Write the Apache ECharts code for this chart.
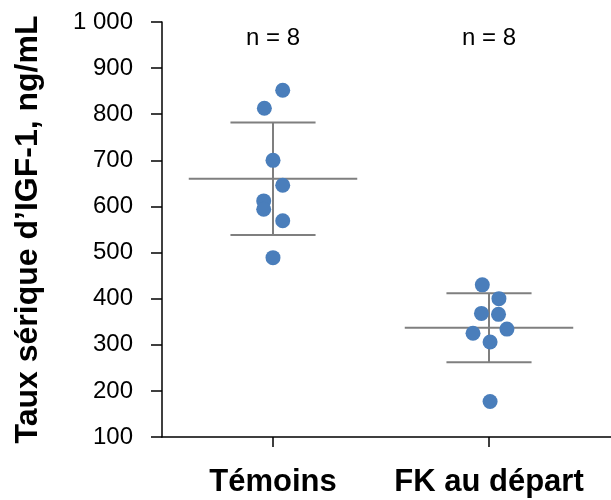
<!DOCTYPE html>
<html>
<head>
<meta charset="utf-8">
<style>
  html, body { margin: 0; padding: 0; background: #fff; }
  #chart { width: 611px; height: 500px; }
</style>
<script src="https://cdn.jsdelivr.net/npm/echarts@6/dist/echarts.min.js"></script>
</head>
<body>
<div id="chart"></div>
<script>
// Serum IGF-1 levels, controls vs. FK patients at baseline
const categories = ['Témoins', 'FK au départ'];
const temoinsValues = [852, 813, 700, 646, 612, 594, 569, 489];
const fkValues = [430, 400, 368, 366, 334, 325, 306, 177];
// horizontal jitter of each dot around its group centre (in category units)
const temoinsJitter = [0.045, -0.04, 0, 0.045, -0.043, -0.043, 0.045, 0];
const fkJitter = [-0.031, 0.046, -0.035, 0.044, 0.083, -0.074, 0.005, 0.005];
// group mean and standard deviation
const means = [660, 337];
const sds = [122, 75];
const yTicks = [100, 200, 300, 400, 500, 600, 700, 800, 900, 1000];

const FONT = 'Liberation Sans, Arial, sans-serif';
const groups = [temoinsValues, fkValues];
const jitters = [temoinsJitter, fkJitter];

const dots = [];
groups.forEach((vals, g) => {
  vals.forEach((v, i) => dots.push([g + 1 + jitters[g][i], v]));
});

const errData = means.map((m, g) => [g + 1, m, m - sds[g], m + sds[g]]);
const countData = groups.map((vals, g) => ({ value: [g + 1, 965], n: vals.length }));

const chart = echarts.init(document.getElementById('chart'), null, { renderer: 'canvas' });
chart.setOption({
  animation: false,
  grid: { left: 162, right: 0, top: 22, bottom: 63, containLabel: false, outerBoundsMode: 'none' },
  xAxis: {
    type: 'value',
    min: 0.4861,
    max: 2.5648,
    splitLine: { show: false },
    axisLine: { show: true, onZero: false, lineStyle: { color: '#000', width: 1.5 } },
    axisTick: { show: true, customValues: [1, 2], length: 10, lineStyle: { color: '#000', width: 1.5 } },
    axisLabel: {
      customValues: [1, 2],
      formatter: v => categories[Math.round(v) - 1],
      color: '#000',
      fontFamily: FONT,
      fontWeight: 'bold',
      fontSize: 31,
      margin: 30
    }
  },
  yAxis: {
    type: 'value',
    min: 100,
    max: 1000,
    interval: 100,
    name: "Taux sérique d’IGF-1, ng/mL",
    nameLocation: 'middle',
    nameGap: 118,
    nameTextStyle: { color: '#000', fontFamily: FONT, fontWeight: 'bold', fontSize: 32 },
    splitLine: { show: false },
    axisLine: { show: true, lineStyle: { color: '#000', width: 1.5 } },
    axisTick: { show: true, length: 11, lineStyle: { color: '#000', width: 1.5 } },
    axisLabel: {
      color: '#000',
      fontFamily: FONT,
      fontSize: 24,
      margin: 29,
      formatter: v => yTicks.includes(v) ? String(v).replace(/\B(?=(\d{3})+(?!\d))/g, ' ') : ''
    }
  },
  series: [
    {
      // mean ± SD bars
      type: 'custom',
      data: errData,
      z: 1,
      renderItem: (params, api) => {
        const x = api.value(0);
        const mean = api.coord([x, api.value(1)]);
        const lo = api.coord([x, api.value(2)]);
        const hi = api.coord([x, api.value(3)]);
        const meanHalf = api.size([0.39, 0])[0];
        const capHalf = api.size([0.197, 0])[0];
        const style = { stroke: '#7f7f7f', lineWidth: 2 };
        return {
          type: 'group',
          children: [
            { type: 'line', shape: { x1: lo[0], y1: lo[1], x2: hi[0], y2: hi[1] }, style },
            { type: 'line', shape: { x1: mean[0] - meanHalf, y1: mean[1], x2: mean[0] + meanHalf, y2: mean[1] }, style },
            { type: 'line', shape: { x1: hi[0] - capHalf, y1: hi[1], x2: hi[0] + capHalf, y2: hi[1] }, style },
            { type: 'line', shape: { x1: lo[0] - capHalf, y1: lo[1], x2: lo[0] + capHalf, y2: lo[1] }, style }
          ]
        };
      }
    },
    {
      type: 'scatter',
      data: dots,
      z: 2,
      symbol: 'circle',
      symbolSize: 15,
      itemStyle: { color: '#4a7ebb', opacity: 1 }
    },
    {
      // group sizes
      type: 'scatter',
      data: countData,
      symbolSize: 0,
      silent: true,
      itemStyle: { opacity: 1 },
      label: {
        show: true,
        position: 'inside',
        formatter: p => 'n = ' + p.data.n,
        color: '#000',
        opacity: 1,
        fontFamily: FONT,
        fontSize: 24
      }
    }
  ]
});
</script>
</body>
</html>
